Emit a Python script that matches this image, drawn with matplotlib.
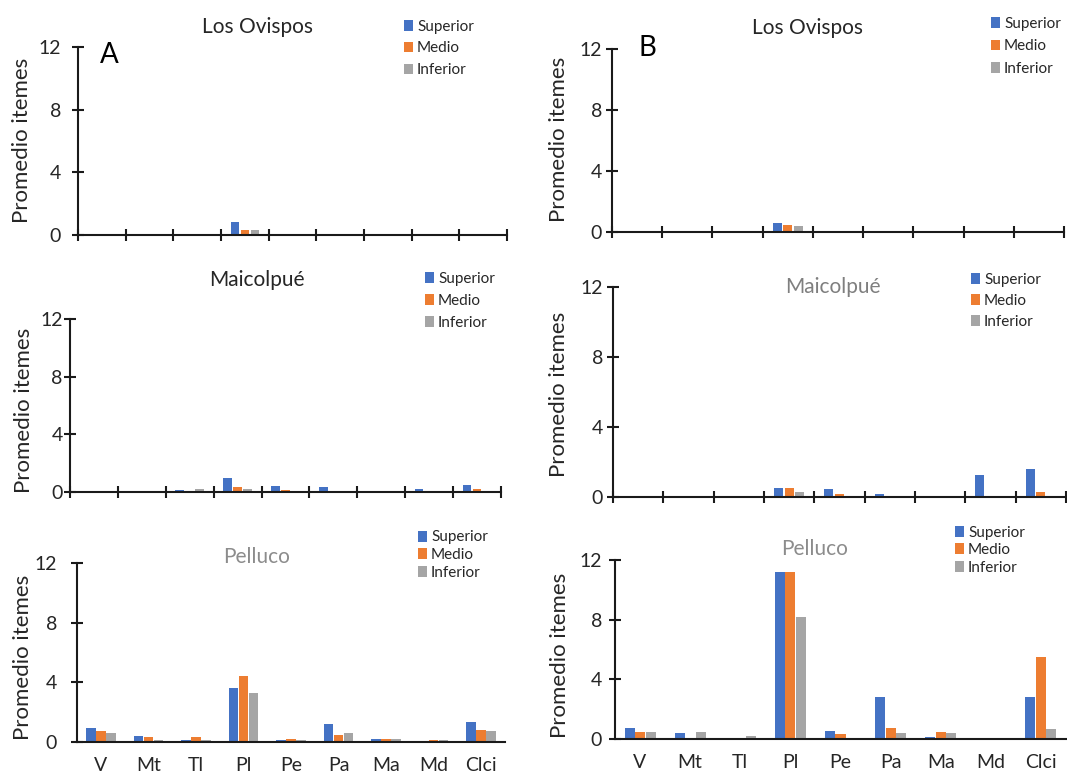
import matplotlib
matplotlib.use("Agg")
import matplotlib.pyplot as plt
import numpy as np
from matplotlib.patches import Patch

plt.rcParams['font.family'] = ['Lato', 'DejaVu Sans']

categories = ["V", "Mt", "Tl", "Pl", "Pe", "Pa", "Ma", "Md", "Clci"]
series_names = ["Superior", "Medio", "Inferior"]
colors = ["#4472C4", "#ED7D31", "#A5A5A5"]

# Panel A (left column)
A_ovispos_sup = [0, 0, 0, 0.80, 0, 0, 0, 0, 0]
A_ovispos_med = [0, 0, 0, 0.35, 0, 0, 0, 0, 0]
A_ovispos_inf = [0, 0, 0, 0.35, 0, 0, 0, 0, 0]

A_maicol_sup = [0, 0, 0.12, 1.00, 0.42, 0.37, 0, 0.18, 0.51]
A_maicol_med = [0, 0, 0.02, 0.35, 0.12, 0, 0, 0, 0.19]
A_maicol_inf = [0, 0, 0.18, 0.23, 0, 0, 0, 0, 0]

A_pelluco_sup = [0.96, 0.38, 0.16, 3.62, 0.11, 1.19, 0.20, 0, 1.34]
A_pelluco_med = [0.72, 0.31, 0.31, 4.43, 0.20, 0.49, 0.20, 0.16, 0.78]
A_pelluco_inf = [0.60, 0.16, 0.11, 3.29, 0.16, 0.60, 0.20, 0.11, 0.74]

# Panel B (right column)
B_ovispos_sup = [0, 0, 0, 0.59, 0, 0, 0, 0, 0]
B_ovispos_med = [0, 0, 0, 0.44, 0, 0, 0, 0, 0]
B_ovispos_inf = [0, 0, 0, 0.39, 0, 0, 0, 0, 0]

B_maicol_sup = [0, 0, 0, 0.51, 0.46, 0.15, 0, 1.28, 1.62]
B_maicol_med = [0, 0, 0, 0.51, 0.15, 0, 0, 0.08, 0.29]
B_maicol_inf = [0, 0, 0, 0.29, 0, 0, 0, 0, 0]

B_pelluco_sup = [0.74, 0.40, 0, 11.18, 0.56, 2.79, 0.16, 0, 2.79]
B_pelluco_med = [0.45, 0.09, 0.09, 11.18, 0.33, 0.74, 0.49, 0.09, 5.51]
B_pelluco_inf = [0.45, 0.45, 0.22, 8.17, 0, 0.40, 0.40, 0, 0.69]

yticks = [0, 4, 8, 12]

W, H = 1067, 776
fig = plt.figure(figsize=(W / 100, H / 100), dpi=100)

def fx(x):
    return x / W

def fy(y):
    return 1 - y / H

dark = "#262626"
grey_title = "#8C8C8C"

panels = [
    dict(data=(A_ovispos_sup, A_ovispos_med, A_ovispos_inf), box=(78, 507, 47, 235),
         title="Los Ovispos", tpos=(257, 27), tcol=dark, leg=(404, 19.5), lsp=0.52,
         ylab=(22, 140), ypad=7.9, bottom=False, bw=0.18, letter=("A", 109, 55)),
    dict(data=(B_ovispos_sup, B_ovispos_med, B_ovispos_inf), box=(612, 1064, 49, 232),
         title="Los Ovispos", tpos=(808, 28), tcol=dark, leg=(991, 17), lsp=0.55,
         ylab=(559, 139), ypad=2.9, bottom=False, bw=0.18, letter=("B", 647, 48)),
    dict(data=(A_maicol_sup, A_maicol_med, A_maicol_inf), box=(70, 501, 319, 492),
         title="Maicolpué", tpos=(257, 280), tcol=dark, leg=(425, 272), lsp=0.52,
         ylab=(24, 410), ypad=0.9, bottom=False, bw=0.18, letter=None),
    dict(data=(B_maicol_sup, B_maicol_med, B_maicol_inf), box=(613, 1066, 287, 497),
         title="Maicolpué", tpos=(833, 287), tcol="#7F7F7F", leg=(971, 273), lsp=0.45,
         ylab=(559, 394), ypad=2.9, bottom=False, bw=0.18, letter=None),
    dict(data=(A_pelluco_sup, A_pelluco_med, A_pelluco_inf), box=(77, 505, 563, 742),
         title="Pelluco", tpos=(257, 557), tcol=grey_title, leg=(418, 530.5), lsp=0.23,
         ylab=(23, 657), ypad=10.0, bottom=True, bw=0.2, letter=None),
    dict(data=(B_pelluco_sup, B_pelluco_med, B_pelluco_inf), box=(615, 1066, 560, 739),
         title="Pelluco", tpos=(815, 549), tcol=grey_title, leg=(955, 525.5), lsp=0.23,
         ylab=(560, 655), ypad=5.0, bottom=True, bw=0.2, letter=None),
]

x = np.arange(len(categories))
step = 0.21

for p in panels:
    x0, x1, yt, yb = p["box"]
    ax = fig.add_axes([fx(x0), fy(yb), (x1 - x0) / W, (yb - yt) / H])
    for i, (vals, c) in enumerate(zip(p["data"], colors)):
        ax.bar(x + (i - 1) * step, vals, width=p["bw"], color=c, linewidth=0)
    ax.set_xlim(-0.5, len(categories) - 0.5)
    ax.set_ylim(0, 12)
    ax.set_yticks(yticks)
    for s in ["top", "right"]:
        ax.spines[s].set_visible(False)
    for s in ["left", "bottom"]:
        ax.spines[s].set_linewidth(1.5)
        ax.spines[s].set_color("#1a1a1a")
    ax.tick_params(axis="y", direction="inout", length=8.6, width=1.5,
                   pad=p["ypad"], labelsize=14, labelcolor=dark, color="#1a1a1a")
    if p["bottom"]:
        ax.set_xticks(x)
        ax.set_xticklabels(categories)
        ax.tick_params(axis="x", length=0, pad=11, labelsize=14, labelcolor=dark)
    else:
        ax.set_xticks(np.arange(len(categories) + 1) - 0.5)
        ax.set_xticklabels([])
        ax.tick_params(axis="x", direction="inout", length=8.6, width=1.5, color="#1a1a1a")
    fig.text(fx(p["ylab"][0]), fy(p["ylab"][1]), "Promedio itemes", rotation=90,
             ha="center", va="center", fontsize=16, color=dark)
    fig.text(fx(p["tpos"][0]), fy(p["tpos"][1]), p["title"], ha="center", va="center",
             fontsize=15, color=p["tcol"])
    handles = [Patch(facecolor=c, edgecolor="none", label=n) for c, n in zip(colors, series_names)]
    ax.legend(handles=handles, loc="upper left", bbox_to_anchor=(fx(p["leg"][0]), fy(p["leg"][1])),
              bbox_transform=fig.transFigure, frameon=False, fontsize=11,
              handlelength=0.6, handleheight=0.7, handletextpad=0.25, labelspacing=p["lsp"],
              borderpad=0, borderaxespad=0, labelcolor=dark)
    if p["letter"]:
        l, lx, ly = p["letter"]
        fig.text(fx(lx), fy(ly), l, ha="center", va="center", fontsize=20, color="black")

fig.savefig("out.png", dpi=100)
